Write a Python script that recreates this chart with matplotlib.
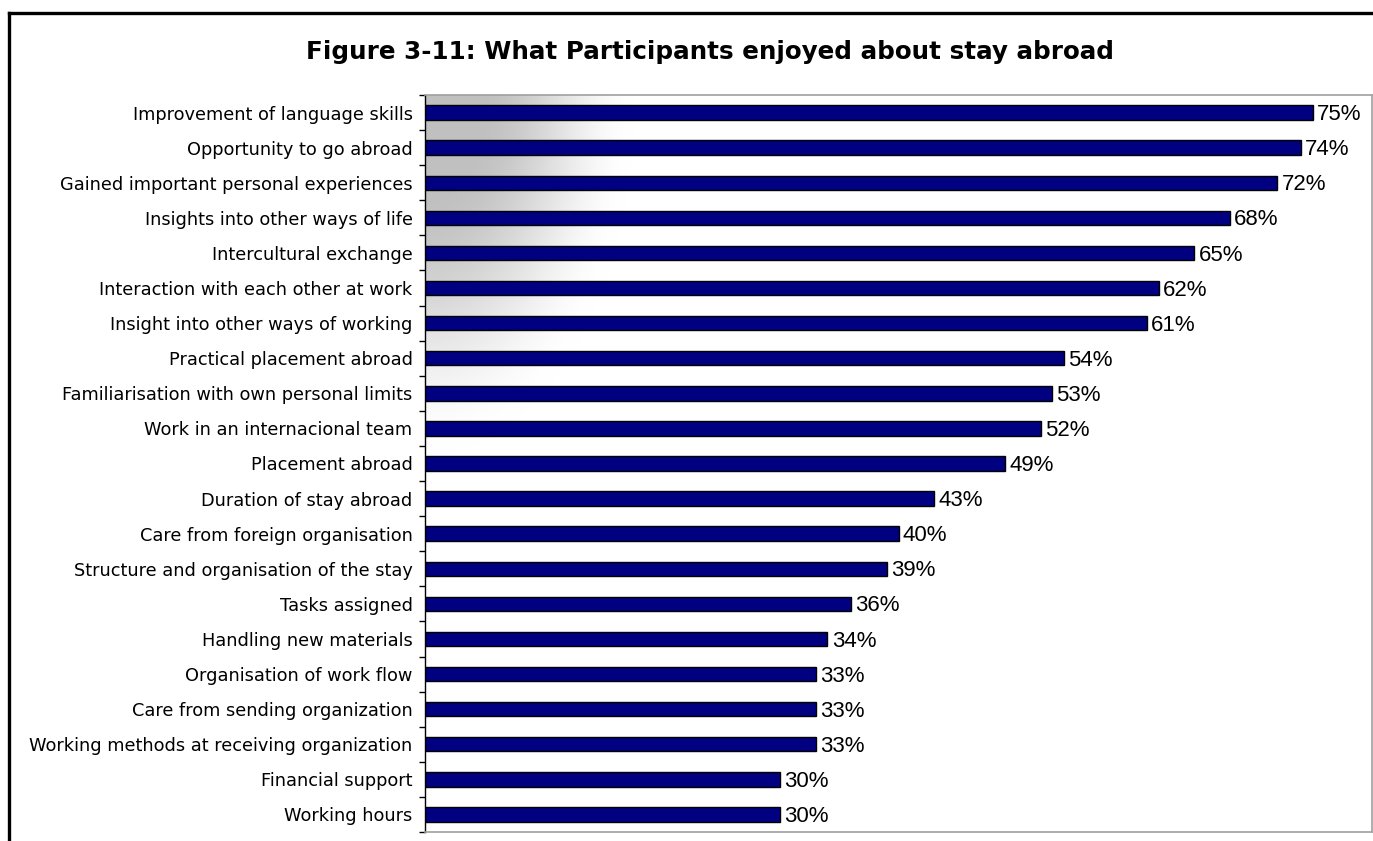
import numpy as np
import matplotlib
matplotlib.use("Agg")
import matplotlib.pyplot as plt
from matplotlib.lines import Line2D
from matplotlib import font_manager as fm

categories = [
    "Improvement of language skills",
    "Opportunity to go abroad",
    "Gained important personal experiences",
    "Insights into other ways of life",
    "Intercultural exchange",
    "Interaction with each other at work",
    "Insight into other ways of working",
    "Practical placement abroad",
    "Familiarisation with own personal limits",
    "Work in an internacional team",
    "Placement abroad",
    "Duration of stay abroad",
    "Care from foreign organisation",
    "Structure and organisation of the stay",
    "Tasks assigned",
    "Handling new materials",
    "Organisation of work flow",
    "Care from sending organization",
    "Working methods at receiving organization",
    "Financial support",
    "Working hours",
]
values = [75, 74, 72, 68, 65, 62, 61, 54, 53, 52, 49, 43, 40, 39, 36, 34, 33, 33, 33, 30, 30]
title = "Figure 3-11: What Participants enjoyed about stay abroad"

# pick regular Liberation Sans (Arial metric clone) explicitly
lib_path = None
for f in fm.findSystemFonts():
    if f.endswith("LiberationSans-Regular.ttf"):
        lib_path = f
        break
if lib_path:
    val_font = fm.FontProperties(fname=lib_path, size=16)
else:
    val_font = fm.FontProperties(family="Liberation Sans", size=16)

W, H = 1373, 841
fig = plt.figure(figsize=(W / 100, H / 100), dpi=100)
fig.patch.set_facecolor("white")

# outer frame (left and top visible)
fig.add_artist(Line2D([9 / W, 9 / W], [0, 1 - 13 / H], transform=fig.transFigure,
                      color="black", lw=2.4, solid_capstyle="projecting"))
fig.add_artist(Line2D([9 / W, 1.01], [1 - 13 / H, 1 - 13 / H], transform=fig.transFigure,
                      color="black", lw=2.4, solid_capstyle="projecting"))

left_px, top_px, bottom_px = 425, 95, 832
ax = fig.add_axes([left_px / W, 1 - bottom_px / H, (W - 1 - left_px) / W, (bottom_px - top_px) / H])

# background gradient from top-left corner
pw, ph = W - 1 - left_px, bottom_px - top_px
xx, yy = np.meshgrid(np.arange(pw), np.arange(ph))
t = np.sqrt((xx / 210.0) ** 2 + (yy / 360.0) ** 2)
s = np.clip((t - 0.25) / 0.75, 0, 1)
s = s * s * (3 - 2 * s)
v = (192 + 63 * s) / 255.0
img = np.dstack([v, v, v])
ax.imshow(img, extent=(0, 1, 0, 1), transform=ax.transAxes, origin="upper",
          aspect="auto", zorder=0, interpolation="bilinear")

y = np.arange(len(categories))
ax.barh(y, values, height=0.41, color="#000080", edgecolor="black", linewidth=1.0, zorder=2)
for yi, val in zip(y, values):
    ax.text(val + 0.35, yi + 0.06, f"{val}%", va="center", ha="left",
            fontproperties=val_font, color="black", zorder=3)

ax.set_xlim(0, 80)
ax.set_ylim(len(categories) - 0.5, -0.5)
ax.set_xticks([])
ax.set_yticks(y)
ax.set_yticklabels(categories, fontsize=12.8, family="DejaVu Sans")
ax.set_yticks(np.arange(-0.5, len(categories), 1.0), minor=True)
ax.tick_params(axis="y", which="major", length=0, pad=9)
ax.tick_params(axis="y", which="minor", length=4, width=1, color="black", direction="out")

ax.spines["left"].set_color("black")
ax.spines["left"].set_linewidth(1.0)
for sp in ("top", "bottom", "right"):
    ax.spines[sp].set_color("#a0a0a0")
    ax.spines[sp].set_linewidth(1.2)

fig.text(710 / W, 1 - 52 / H, title, ha="center", va="center", fontsize=17.7,
         fontweight="bold", family="DejaVu Sans")

fig.savefig("out.png", dpi=100)
